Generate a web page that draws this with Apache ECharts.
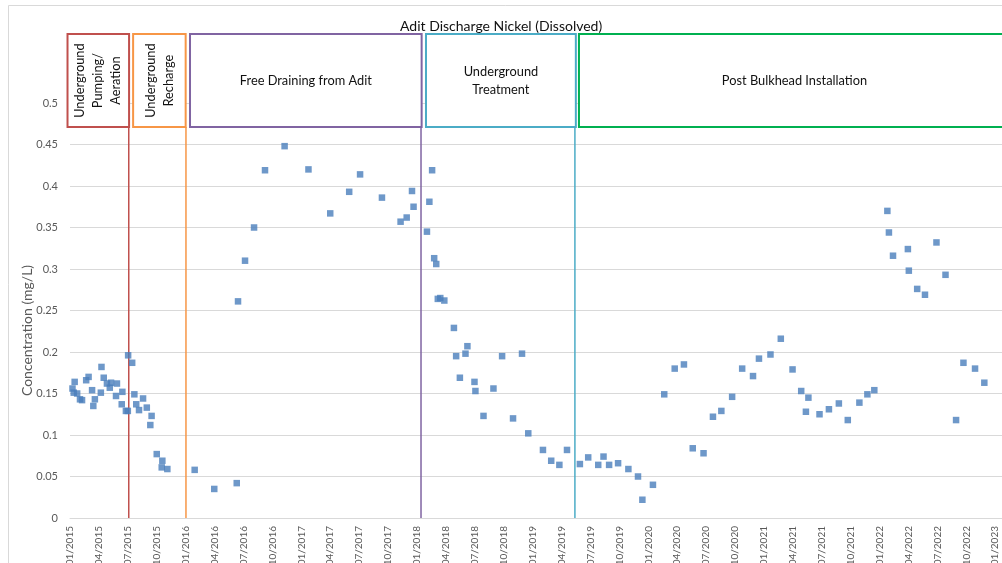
<!DOCTYPE html>
<html>
<head>
<meta charset="utf-8">
<script src="https://cdn.jsdelivr.net/npm/echarts@6/dist/echarts.min.js"></script>
<style>
  html, body { margin: 0; padding: 0; background: #fff; }
  #chart { width: 1002px; height: 563px; }
</style>
</head>
<body>
<div id="chart"></div>
<script>
// sample dates and dissolved nickel (mg/L)
const sampleDates = [
  '2015-01-09', '2015-01-13', '2015-01-16', '2015-01-24', '2015-02-02', '2015-02-08', '2015-02-20',
  '2015-02-27', '2015-03-10', '2015-03-14', '2015-03-19', '2015-04-09', '2015-04-07', '2015-04-16',
  '2015-04-26', '2015-05-05', '2015-05-09', '2015-05-28', '2015-05-25', '2015-06-14', '2015-06-12',
  '2015-06-25', '2015-07-01', '2015-07-02', '2015-07-15', '2015-07-22', '2015-07-28', '2015-08-06',
  '2015-08-19', '2015-08-31', '2015-09-15', '2015-09-11', '2015-10-01', '2015-10-19', '2015-10-17',
  '2015-11-04', '2016-01-30', '2016-03-31', '2016-06-10', '2016-06-14', '2016-07-06', '2016-08-04',
  '2016-09-08', '2016-11-09', '2017-01-24', '2017-04-01', '2017-05-31', '2017-07-04', '2017-09-12',
  '2017-11-10', '2017-11-29', '2017-12-16', '2017-12-21', '2018-02-02', '2018-02-09', '2018-02-17',
  '2018-02-23', '2018-03-01', '2018-03-06', '2018-03-14', '2018-03-27', '2018-04-26', '2018-05-03',
  '2018-05-15', '2018-06-02', '2018-06-08', '2018-06-30', '2018-07-03', '2018-07-29', '2018-08-30',
  '2018-09-26', '2018-10-31', '2018-11-28', '2018-12-18', '2019-02-03', '2019-02-27', '2019-03-25',
  '2019-04-18', '2019-05-29', '2019-06-24', '2019-07-26', '2019-08-12', '2019-08-30', '2019-09-27',
  '2019-10-30', '2019-11-29', '2019-12-13', '2020-01-16', '2020-02-20', '2020-03-24', '2020-04-22',
  '2020-05-20', '2020-06-23', '2020-07-23', '2020-08-19', '2020-09-22', '2020-10-24', '2020-11-27',
  '2020-12-16', '2021-01-22', '2021-02-22', '2021-03-31', '2021-04-27', '2021-05-12', '2021-05-20',
  '2021-06-24', '2021-07-24', '2021-08-25', '2021-09-22', '2021-10-29', '2021-11-23', '2021-12-15',
  '2022-01-26', '2022-01-31', '2022-02-12', '2022-03-30', '2022-04-02', '2022-04-28', '2022-05-23',
  '2022-06-28', '2022-07-27', '2022-08-30', '2022-09-22', '2022-10-29', '2022-11-27'
];
const nickelValues = [
  0.156, 0.151, 0.164, 0.150, 0.143, 0.142, 0.166,
  0.170, 0.154, 0.135, 0.143, 0.182, 0.151, 0.169,
  0.162, 0.157, 0.163, 0.162, 0.147, 0.152, 0.137,
  0.129, 0.129, 0.196, 0.187, 0.149, 0.137, 0.130,
  0.144, 0.133, 0.123, 0.112, 0.077, 0.069, 0.061,
  0.059, 0.058, 0.035, 0.042, 0.261, 0.310, 0.350,
  0.419, 0.448, 0.420, 0.367, 0.393, 0.414, 0.386,
  0.357, 0.362, 0.394, 0.375, 0.345, 0.381, 0.419,
  0.313, 0.306, 0.264, 0.265, 0.262, 0.229, 0.195,
  0.169, 0.198, 0.207, 0.164, 0.153, 0.123, 0.156,
  0.195, 0.120, 0.198, 0.102, 0.082, 0.069, 0.064,
  0.082, 0.065, 0.073, 0.064, 0.074, 0.064, 0.066,
  0.059, 0.050, 0.022, 0.040, 0.149, 0.180, 0.185,
  0.084, 0.078, 0.122, 0.129, 0.146, 0.180, 0.171,
  0.192, 0.197, 0.216, 0.179, 0.153, 0.128, 0.145,
  0.125, 0.131, 0.138, 0.118, 0.139, 0.149, 0.154,
  0.370, 0.344, 0.316, 0.324, 0.298, 0.276, 0.269,
  0.332, 0.293, 0.118, 0.187, 0.180, 0.163
];

// quarterly axis labels (day/month/year)
const tickLabels = [
  '01/01/2015', '01/04/2015', '01/07/2015', '01/10/2015',
  '01/01/2016', '01/04/2016', '01/07/2016', '01/10/2016',
  '01/01/2017', '01/04/2017', '01/07/2017', '01/10/2017',
  '01/01/2018', '01/04/2018', '01/07/2018', '01/10/2018',
  '01/01/2019', '01/04/2019', '01/07/2019', '01/10/2019',
  '01/01/2020', '01/04/2020', '01/07/2020', '01/10/2020',
  '01/01/2021', '01/04/2021', '01/07/2021', '01/10/2021',
  '01/01/2022', '01/04/2022', '01/07/2022', '01/10/2022',
  '01/01/2023'
];

// site phases
const phaseNames = [
  'Underground\nPumping/\nAeration',
  'Underground\nRecharge',
  'Free Draining from Adit',
  'Underground\nTreatment',
  'Post Bulkhead Installation'
];
const phaseStarts = ['2014-12-24', '2015-07-18', '2016-01-15', '2018-01-30', '2019-05-26'];
const phaseEnds = ['2015-07-05', '2016-01-01', '2018-01-16', '2019-05-16', '2023-06-01'];
const changeDates = ['2015-07-04', '2016-01-02', '2018-01-14', '2019-05-13'];
const phaseColors = ['#C0504D', '#F79646', '#8064A2', '#4BACC6', '#00B050'];
const phaseVertical = [true, true, false, false, false];

const FONT = 'Lato, "Open Sans", sans-serif';

// months since Jan 2015
function toMonth(s) {
  const [y, m, d] = s.split('-').map(Number);
  const dim = new Date(y, m, 0).getDate();
  return (y - 2015) * 12 + (m - 1) + (d - 1) / dim;
}

const points = sampleDates.map((d, i) => [toMonth(d), nickelValues[i]]);

const chart = echarts.init(document.getElementById('chart'));

chart.setOption({
  animation: false,
  backgroundColor: '#fff',
  title: {
    text: 'Adit Discharge Nickel (Dissolved)',
    left: 395,
    top: 14,
    z: 20,
    textStyle: { fontFamily: FONT, fontSize: 14, fontWeight: 'normal', color: '#111' }
  },
  grid: { left: 70, right: 0, top: 103, bottom: 45, containLabel: false, outerBoundsMode: 'none' },
  xAxis: {
    type: 'value',
    min: 0,
    max: 96.7,
    interval: 3,
    splitLine: { show: false },
    axisTick: { show: false },
    axisLine: { show: true, lineStyle: { color: '#D9D9D9' } },
    axisLabel: {
      rotate: 90,
      margin: 8,
      fontSize: 10,
      fontFamily: FONT,
      color: '#595959',
      showMaxLabel: false,
      formatter: v => {
        const i = Math.round(v / 3);
        return Math.abs(v - i * 3) < 1e-6 && tickLabels[i] ? tickLabels[i] : '';
      }
    }
  },
  yAxis: {
    type: 'value',
    min: 0,
    max: 0.5,
    interval: 0.05,
    name: 'Concentration (mg/L)',
    nameLocation: 'middle',
    nameGap: 36,
    nameMoveOverlap: false,
    nameTextStyle: { fontFamily: FONT, fontSize: 14, color: '#595959', padding: [0, 40, 0, 0] },
    axisLine: { show: false },
    axisTick: { show: false },
    splitLine: { lineStyle: { color: '#D9D9D9' } },
    axisLabel: {
      margin: 12,
      fontSize: 11,
      fontFamily: FONT,
      color: '#595959',
      formatter: v => String(+v.toFixed(2))
    }
  },
  series: [{
    type: 'scatter',
    symbol: 'rect',
    symbolSize: 6.5,
    itemStyle: { color: '#4A7EBB' },
    data: points
  }]
});

// phase boxes and change lines, placed through the axes
const BOX_TOP = 0.583, BOX_BOTTOM = 0.471;
const px = v => chart.convertToPixel({ xAxisIndex: 0 }, v);
const py = v => chart.convertToPixel({ yAxisIndex: 0 }, v);

const graphics = [{
  type: 'rect',
  z: -1,
  shape: { x: 8.5, y: 5.5, width: 1100, height: 700 },
  style: { fill: 'none', stroke: '#D9D9D9', lineWidth: 1 }
}];

const yTop = py(BOX_TOP), yBot = py(BOX_BOTTOM), yZero = py(0);

changeDates.forEach((d, i) => {
  const x = px(toMonth(d));
  graphics.push({
    type: 'line',
    shape: { x1: x, y1: yBot, x2: x, y2: yZero },
    style: { stroke: phaseColors[i], lineWidth: 1.5 }
  });
});

phaseNames.forEach((name, i) => {
  const x0 = px(toMonth(phaseStarts[i]));
  const x1 = px(toMonth(phaseEnds[i]));
  graphics.push({
    type: 'rect',
    shape: { x: x0, y: yTop, width: x1 - x0, height: yBot - yTop },
    style: { fill: '#fff', stroke: phaseColors[i], lineWidth: 2 }
  });
  const cx = phaseVertical[i] ? (x0 + x1) / 2 : (x0 + Math.min(x1, 1010)) / 2;
  graphics.push({
    type: 'text',
    x: cx,
    y: (yTop + yBot) / 2,
    rotation: phaseVertical[i] ? Math.PI / 2 : 0,
    style: {
      text: name,
      align: 'center',
      verticalAlign: 'middle',
      fontFamily: FONT,
      fontSize: 12.8,
      lineHeight: 18,
      fill: '#111'
    }
  });
});

chart.setOption({ graphic: graphics });
</script>
</body>
</html>
